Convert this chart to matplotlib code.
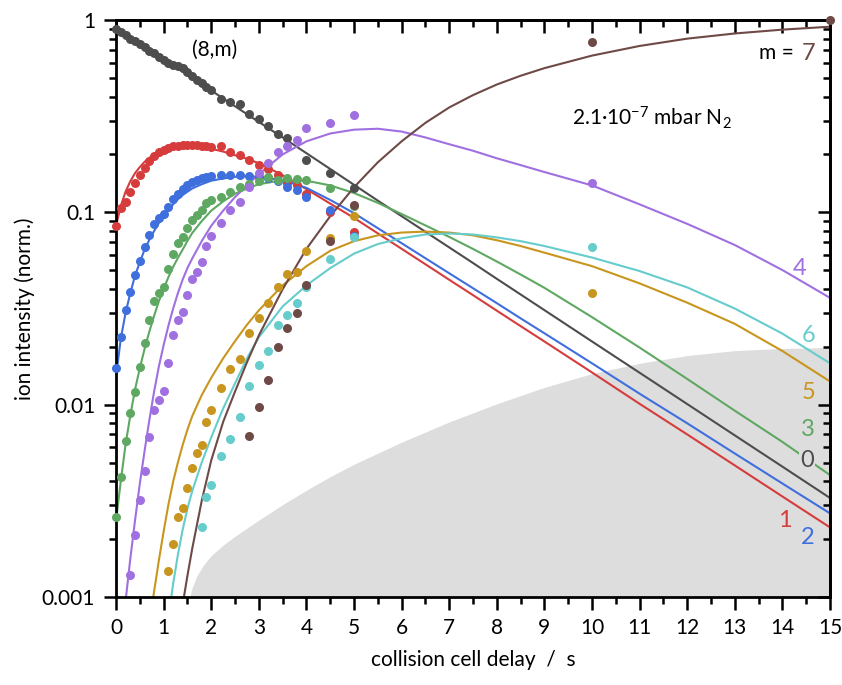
import numpy as np
import matplotlib
matplotlib.use("Agg")
import matplotlib.pyplot as plt
from matplotlib.ticker import MultipleLocator, LogLocator, FixedLocator, NullFormatter

plt.rcParams['font.family'] = ['Lato', 'DejaVu Sans']
plt.rcParams['mathtext.default'] = 'regular'

nan = np.nan

# measured points (x in s)
x_data = [0.0, 0.1, 0.2, 0.3, 0.4, 0.5, 0.6, 0.7, 0.8, 0.9, 1.0, 1.1, 1.2, 1.3, 1.4,
          1.5, 1.6, 1.7, 1.8, 1.9, 2.0, 2.2, 2.4, 2.6, 2.8, 3.0, 3.2, 3.4, 3.6, 3.8,
          4.0, 4.5, 5.0, 10, 15]
m0_data = [0.90, 0.87, 0.84, 0.80, 0.78, 0.75, 0.72, 0.69, 0.67, 0.64, 0.62, 0.60, 0.585,
           0.575, 0.56, 0.535, 0.51, 0.49, 0.47, 0.45, 0.43, 0.39, 0.375, 0.365, 0.325,
           0.305, 0.28, 0.255, 0.243, nan, 0.187, 0.16, 0.134, nan, nan]
m1_data = [0.085, 0.105, 0.113, 0.127, 0.142, 0.156, 0.17, 0.185, 0.197, 0.205, 0.21,
           0.215, 0.22, 0.222, 0.225, 0.225, 0.224, 0.225, 0.222, 0.221, 0.218, 0.221,
           0.206, 0.199, 0.187, 0.176, 0.168, 0.156, 0.142, 0.138, 0.125, 0.10, 0.079,
           nan, nan]
m2_data = [0.0155, 0.0225, 0.031, 0.0385, 0.047, 0.056, 0.066, 0.076, 0.087, 0.093,
           0.098, 0.107, 0.118, 0.125, 0.133, 0.139, 0.144, 0.148, 0.151, 0.153, 0.154,
           0.156, 0.156, 0.156, 0.155, 0.153, 0.15, 0.145, 0.135, 0.13, 0.12, 0.103,
           0.075, nan, nan]
m3_data = [0.0026, 0.0042, 0.0065, 0.0091, 0.0117, 0.0157, 0.0209, 0.0276, 0.0345,
           0.038, 0.041, 0.051, 0.061, 0.069, 0.074, 0.083, 0.091, 0.097, 0.103, 0.112,
           0.116, 0.12, 0.128, 0.136, 0.14, 0.145, 0.152, 0.148, 0.15, 0.149, 0.147,
           0.134, 0.108, nan, nan]
m4_data = [nan, nan, nan, 0.0013, 0.0021, 0.0032, 0.0045, 0.0068, 0.0094, 0.0106,
           0.0118, 0.0165, 0.0229, 0.0276, 0.0303, 0.037, 0.045, 0.049, 0.055, 0.067,
           0.075, 0.088, 0.103, 0.113, 0.135, 0.16, 0.18, 0.206, 0.221, 0.238, 0.274,
           0.291, 0.32, 0.142, nan]
m5_data = [nan, nan, nan, nan, nan, nan, nan, nan, nan, nan, nan, 0.00136, 0.00189,
           0.0026, 0.0029, 0.0037, 0.0047, 0.0056, 0.0062, 0.0081, 0.0094, 0.0122,
           0.0153, 0.0172, 0.0235, 0.0282, 0.0338, 0.041, 0.0477, 0.049, 0.063, 0.0735,
           0.096, 0.038, nan]
m6_data = [nan, nan, nan, nan, nan, nan, nan, nan, nan, nan, nan, nan, nan, nan, nan,
           nan, nan, nan, 0.0023, 0.0033, 0.0038, 0.0054, 0.0066, 0.0086, 0.0125, 0.016,
           0.019, 0.026, 0.0293, 0.0338, 0.041, 0.057, 0.074, 0.066, nan]
m7_data = [nan, nan, nan, nan, nan, nan, nan, nan, nan, nan, nan, nan, nan, nan, nan,
           nan, nan, nan, nan, nan, nan, nan, nan, nan, 0.0069, 0.0097, 0.0134, 0.02,
           0.025, 0.03, 0.042, 0.071, 0.109, 0.77, 1.0]

# fitted kinetics curves
fit_x = [0, 0.1, 0.2, 0.3, 0.4, 0.5, 0.6, 0.7, 0.8, 0.9, 1.0, 1.1, 1.2, 1.3, 1.4, 1.5,
         1.6, 1.8, 2.0, 2.25, 2.5, 2.75, 3.0, 3.5, 4.0, 4.5, 5, 5.5, 6, 6.5, 7, 7.5, 8,
         8.5, 9, 10, 11, 12, 13, 14, 15]
m0_fit = [0.91, 0.877, 0.844, 0.813, 0.783, 0.754, 0.726, 0.700, 0.674, 0.649, 0.625,
          0.602, 0.58, 0.559, 0.538, 0.518, 0.499, 0.463, 0.43, 0.391, 0.356, 0.324,
          0.295, 0.245, 0.203, 0.168, 0.139, 0.115, 0.0955, 0.0792, 0.0657, 0.0545,
          0.0451, 0.0374, 0.031, 0.0213, 0.01465, 0.01007, 0.00692, 0.00476, 0.00327]
m1_fit = [0.085, 0.108, 0.128, 0.145, 0.16, 0.172, 0.183, 0.192, 0.2, 0.206, 0.212,
          0.216, 0.219, 0.221, 0.222, 0.2225, 0.222, 0.219, 0.214, 0.207, 0.198, 0.19,
          0.18, 0.156, 0.132, 0.111, 0.0935, 0.0777, 0.0646, 0.0537, 0.0446, 0.0371,
          0.0308, 0.0256, 0.0213, 0.0147, 0.0101, 0.0070, 0.00483, 0.00333, 0.0023]
m2_fit = [0.014, 0.022, 0.03, 0.038, 0.047, 0.055, 0.064, 0.072, 0.08, 0.088, 0.095,
          0.103, 0.11, 0.117, 0.123, 0.128, 0.133, 0.14, 0.146, 0.15, 0.153, 0.154,
          0.153, 0.147, 0.134, 0.116, 0.099, 0.0827, 0.0691, 0.0577, 0.0482, 0.0403,
          0.0337, 0.0281, 0.0235, 0.0164, 0.0114, 0.008, 0.00557, 0.00389, 0.00272]
m3_fit = [0.0025, 0.004, 0.0062, 0.0088, 0.012, 0.0155, 0.0195, 0.024, 0.029, 0.0345,
          0.04, 0.046, 0.052, 0.058, 0.064, 0.071, 0.078, 0.09, 0.102, 0.114, 0.125,
          0.133, 0.14, 0.147, 0.146, 0.138, 0.126, 0.112, 0.098, 0.0855, 0.0745, 0.0645,
          0.0555, 0.0475, 0.0405, 0.0285, 0.0198, 0.0136, 0.0093, 0.0064, 0.0043]
m4_fit = [nan, nan, 0.00095, 0.00158, 0.00251, 0.00389, 0.00575, 0.00832, 0.0117,
          0.0158, 0.0204, 0.0257, 0.0316, 0.038, 0.0447, 0.0513, 0.0575, 0.0708, 0.0851,
          0.102, 0.12, 0.138, 0.158, 0.2, 0.234, 0.257, 0.269, 0.272, 0.263, 0.245, 0.226,
          0.209, 0.191, 0.176, 0.162, 0.138, 0.11, 0.0871, 0.0676, 0.0501, 0.0359]
m5_fit = [nan, nan, nan, nan, nan, nan, 0.0005, 0.00072, 0.00107, 0.00155, 0.00219,
          0.00302, 0.00398, 0.00501, 0.00617, 0.00741, 0.00871, 0.0112, 0.0138, 0.0174,
          0.0214, 0.026, 0.0309, 0.0417, 0.0525, 0.0631, 0.0708, 0.0759, 0.0785, 0.0794,
          0.0785, 0.0759, 0.0716, 0.0668, 0.0617, 0.0525, 0.0427, 0.0339, 0.0263, 0.019,
          0.0132]
m6_fit = [nan, nan, nan, nan, nan, nan, nan, nan, nan, nan, 0.00056, 0.00079, 0.00117,
          0.00166, 0.00224, 0.00288, 0.00355, 0.005, 0.00676, 0.00955, 0.0129, 0.0174,
          0.0224, 0.0324, 0.0417, 0.0513, 0.061, 0.0684, 0.0733, 0.0767, 0.0776, 0.0767,
          0.0741, 0.0708, 0.0668, 0.0582, 0.0495, 0.0407, 0.0316, 0.0234, 0.0164]
m7_fit = [nan, nan, nan, nan, nan, nan, nan, nan, nan, nan, nan, nan, 0.000437,
          0.00063, 0.000912, 0.00129, 0.00178, 0.00316, 0.00513, 0.00813, 0.0117, 0.0166,
          0.0229, 0.0398, 0.0646, 0.0955, 0.135, 0.182, 0.234, 0.292, 0.351, 0.407, 0.462,
          0.513, 0.562, 0.653, 0.733, 0.8, 0.851, 0.891, 0.923]

# grey background region (upper edge)
shade_x = [1.55, 1.6, 1.7, 1.85, 2.0, 2.25, 2.5, 3.0, 3.5, 4.0, 4.5, 5.0, 6.0, 7.0, 8.0,
           9.0, 10, 11, 12, 13, 14, 15]
shade_y = [0.001, 0.00112, 0.00129, 0.00148, 0.00164, 0.00186, 0.00207, 0.00251, 0.00302,
           0.00359, 0.00422, 0.0049, 0.00638, 0.00813, 0.0101, 0.0123, 0.0145, 0.0164,
           0.018, 0.0191, 0.0196, 0.0198]

colors = ['#4d4d4d', '#d63c3c', '#3f6fdc', '#5ea862', '#a070e0', '#c8961e', '#66cccc', '#6e4a46']
data = [m0_data, m1_data, m2_data, m3_data, m4_data, m5_data, m6_data, m7_data]
fits = [m0_fit, m1_fit, m2_fit, m3_fit, m4_fit, m5_fit, m6_fit, m7_fit]

fig = plt.figure(figsize=(8.42, 6.85), dpi=100)
ax = fig.add_axes([0.1378, 0.1285, 0.848, 0.8423])

ax.fill_between(shade_x, shade_y, 1e-4, color='#dddddd', lw=0, zorder=0)

for yf, c in zip(fits, colors):
    ax.plot(fit_x, yf, color=c, lw=1.5, zorder=2)
for yd, c in zip(data, colors):
    ax.plot(x_data, yd, 'o', color=c, ms=6.5, mec='none', zorder=3, clip_on=False)

ax.set_yscale('log')
ax.set_xlim(0, 15)
ax.set_ylim(0.001, 1)

ax.set_xticks(range(16))
ax.xaxis.set_minor_locator(MultipleLocator(0.5))
ax.yaxis.set_major_locator(FixedLocator([0.001, 0.01, 0.1, 1]))
ax.set_yticklabels(['0.001', '0.01', '0.1', '1'])
ax.yaxis.set_minor_locator(LogLocator(base=10, subs=np.arange(2, 10)))
ax.yaxis.set_minor_formatter(NullFormatter())
ax.tick_params(which='major', direction='out', length=9, width=1.8, labelsize=15, pad=6)
ax.tick_params(which='minor', direction='out', length=5, width=1.8)

secx = ax.secondary_xaxis('top')
secx.set_xticks(range(16))
secx.xaxis.set_minor_locator(MultipleLocator(0.5))
secx.tick_params(which='major', direction='in', length=9, width=1.8, labeltop=False)
secx.tick_params(which='minor', direction='in', length=5, width=1.8)
secy = ax.secondary_yaxis('right')
secy.yaxis.set_major_locator(FixedLocator([0.001, 0.01, 0.1, 1]))
secy.yaxis.set_minor_locator(LogLocator(base=10, subs=np.arange(2, 10)))
secy.tick_params(which='major', direction='in', length=9, width=1.8, labelright=False)
secy.tick_params(which='minor', direction='in', length=5, width=1.8, labelright=False)

for s in list(ax.spines.values()) + [secx.spines['top'], secy.spines['right']]:
    s.set_linewidth(2)

ax.set_xlabel('collision cell delay  /  s', fontsize=15, labelpad=9)
ax.set_ylabel('ion intensity (norm.)', fontsize=15, labelpad=5)

# curve labels
lab = [('4', 14.37, 0.051, 4), ('6', 14.54, 0.023, 6), ('5', 14.54, 0.0116, 5),
       ('3', 14.54, 0.0074, 3), ('0', 14.52, 0.0051, 0), ('1', 14.05, 0.0025, 1),
       ('2', 14.54, 0.00205, 2)]
for t, xx, yy, k in lab:
    kw = {}
    if t == '0':
        kw['bbox'] = dict(facecolor='#dddddd', edgecolor='none', pad=1)
    ax.text(xx, yy, t, color=colors[k], fontsize=17, ha='center', va='center', zorder=4, **kw)

ax.text(2.08, 0.698, '(8,m)', fontsize=15, ha='center', va='center')
ax.text(13.5, 0.673, 'm = ', fontsize=15, ha='left', va='center')
ax.text(14.55, 0.673, '7', fontsize=17, color=colors[7], ha='center', va='center')
ax.text(9.58, 0.31, r'2.1·10$^{-7}$ mbar N$_2$', fontsize=15, ha='left', va='center')

fig.savefig('out.png', dpi=100)
